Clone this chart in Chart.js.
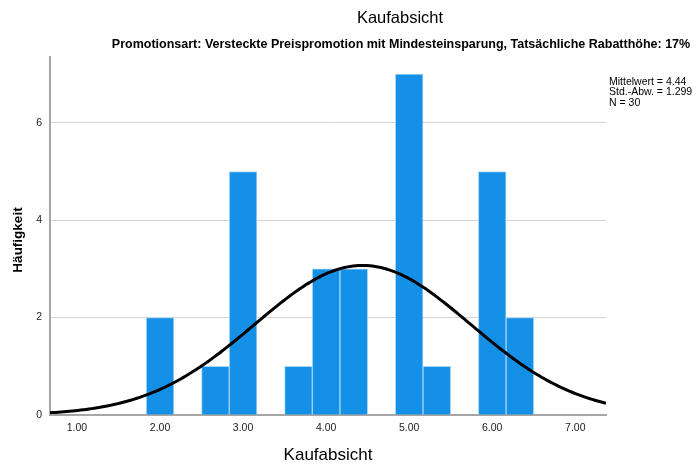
<!DOCTYPE html>
<html>
<head>
<meta charset="utf-8">
<script src="https://cdn.jsdelivr.net/npm/chart.js@4.4.1/dist/chart.umd.min.js"></script>
<style>
  html, body { margin: 0; padding: 0; background: #fff; }
  #wrap { width: 696px; height: 465px; position: relative; }
</style>
</head>
<body>
<div id="wrap"><canvas id="c" width="696" height="465"></canvas></div>
<script>
// Histogram of purchase intention (bin width 1/3) with fitted normal curve
const binCenters = [2.00, 2.6667, 3.00, 3.6667, 4.00, 4.3333, 5.00, 5.3333, 6.00, 6.3333];
const binCounts  = [2, 1, 5, 1, 3, 3, 7, 1, 5, 2];
const xTickValues = [1, 2, 3, 4, 5, 6, 7];
const yTickValues = [0, 2, 4, 6];
const MEAN = 4.44;
const SD = 1.299;
const N = 30;
const BIN_WIDTH = 1 / 3;
const X_MIN = 0.675, X_MAX = 7.37;
const Y_MAX = 7.35;

const titleText = 'Kaufabsicht';
const subtitleText = 'Promotionsart: Versteckte Preispromotion mit Mindesteinsparung, Tatsächliche Rabatthöhe: 17%';
const statsLines = ['Mittelwert = 4.44', 'Std.-Abw. = 1.299', 'N = 30'];
const yTitleText = 'Häufigkeit';

const FONT = '"Liberation Sans", Arial, sans-serif';

// expected frequency per bin under the normal distribution
function normalFreq(x) {
  const z = (x - MEAN) / SD;
  return N * BIN_WIDTH * Math.exp(-0.5 * z * z) / (SD * Math.sqrt(2 * Math.PI));
}
const curvePoints = [];
for (let i = 0; i <= 200; i++) {
  const x = X_MIN + (X_MAX - X_MIN) * i / 200;
  curvePoints.push({ x: x, y: normalFreq(x) });
}

const bars = binCenters.map((x, i) => ({ x: x, y: binCounts[i] }));

const textPlugin = {
  id: 'headerText',
  afterDraw(chart) {
    const ctx = chart.ctx;
    ctx.save();
    ctx.fillStyle = '#000';
    ctx.textAlign = 'center';
    ctx.textBaseline = 'middle';
    ctx.font = '16.5px ' + FONT;
    ctx.fillText(titleText, 400, 18);
    ctx.font = 'bold 12.5px ' + FONT;
    ctx.fillText(subtitleText, 401, 45);
    ctx.textAlign = 'left';
    ctx.font = '10.5px ' + FONT;
    statsLines.forEach((s, i) => ctx.fillText(s, 609, 82 + i * 10.5));
    // vertical axis title
    ctx.translate(18, 240);
    ctx.rotate(-Math.PI / 2);
    ctx.textAlign = 'center';
    ctx.font = 'bold 13.5px ' + FONT;
    ctx.fillText(yTitleText, 0, 0);
    ctx.restore();
  }
};

new Chart(document.getElementById('c'), {
  data: {
    datasets: [
      {
        type: 'line',
        data: curvePoints,
        borderColor: '#000',
        borderWidth: 3,
        pointRadius: 0,
        tension: 0,
        fill: false,
        order: 0
      },
      {
        type: 'bar',
        data: bars,
        backgroundColor: '#1490e6',
        borderColor: '#a8d4f5',
        borderWidth: 1,
        borderSkipped: 'bottom',
        barPercentage: 1,
        categoryPercentage: 1,
        order: 1
      }
    ]
  },
  options: {
    responsive: false,
    animation: false,
    devicePixelRatio: 1,
    layout: { padding: { left: 0, right: 90, top: 57, bottom: 0 } },
    plugins: { legend: { display: false }, tooltip: { enabled: false }, title: { display: false } },
    scales: {
      x: {
        type: 'linear',
        offset: false,
        min: X_MIN,
        max: X_MAX,
        afterBuildTicks(scale) { scale.ticks = xTickValues.map(v => ({ value: v })); },
        afterFit(scale) { scale.height = 50; },
        grid: { display: false, drawTicks: false, offset: false },
        border: { display: true, color: '#a6a6a6', width: 2 },
        ticks: {
          padding: 7,
          color: '#222',
          font: { family: FONT, size: 10.5 },
          maxRotation: 0,
          callback: v => Number(v).toFixed(2)
        },
        title: {
          display: true,
          text: 'Kaufabsicht',
          color: '#000',
          font: { family: FONT, size: 17 },
          padding: { top: 0, bottom: -1 }
        }
      },
      y: {
        type: 'linear',
        min: 0,
        max: Y_MAX,
        afterBuildTicks(scale) { scale.ticks = yTickValues.map(v => ({ value: v })); },
        afterFit(scale) { scale.width = 50; },
        grid: {
          drawTicks: false,
          color: ctx => (ctx.tick && ctx.tick.value === 0) ? 'rgba(0,0,0,0)' : '#d4d4d4',
          lineWidth: 1
        },
        border: { display: true, color: '#a6a6a6', width: 2 },
        ticks: {
          padding: 8,
          color: '#222',
          font: { family: FONT, size: 10.5 },
          callback: v => String(v)
        },
        title: { display: false }
      }
    }
  },
  plugins: [textPlugin]
});
</script>
</body>
</html>
